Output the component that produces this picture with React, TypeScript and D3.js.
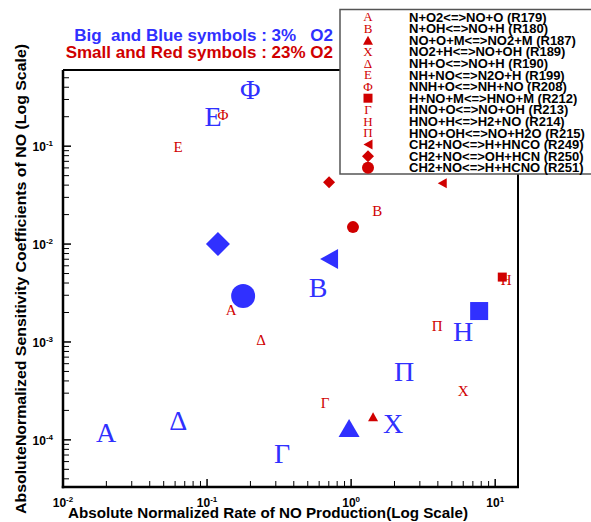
import React from "react";
import * as d3 from "d3";

const width = 591;
const height = 522;

const reactions = [
  "N+O2<=>NO+O (R179)",
  "N+OH<=>NO+H (R180)",
  "NO+O+M<=>NO2+M (R187)",
  "NO2+H<=>NO+OH (R189)",
  "NH+O<=>NO+H (R190)",
  "NH+NO<=>N2O+H (R199)",
  "NNH+O<=>NH+NO (R208)",
  "H+NO+M<=>HNO+M (R212)",
  "HNO+O<=>NO+OH (R213)",
  "HNO+H<=>H2+NO (R214)",
  "HNO+OH<=>NO+H2O (R215)",
  "CH2+NO<=>H+HNCO (R249)",
  "CH2+NO<=>OH+HCN (R250)",
  "CH2+NO<=>H+HCNO (R251)",
];
const symbols = ["Α", "Β", "triUp", "Χ", "Δ", "Ε", "Φ", "square", "Γ", "Η", "Π", "triLeft", "diamond", "circle"];

// 3% O2 (big, blue)
const blueX = [0.0199, 0.59, 0.968, 1.96, 0.063, 0.11, 0.199, 7.74, 0.332, 6.0, 2.33, 0.703, 0.119, 0.178];
const blueY = [1.18e-4, 3.56e-3, 1.32e-4, 1.46e-4, 1.56e-4, 0.198, 0.38, 2.07e-3, 7.2e-5, 1.26e-3, 4.94e-4, 7.03e-3, 0.01, 2.95e-3];
// 23% O2 (small, red)
const redX = [0.147, 1.52, 1.42, 6.0, 0.237, 0.063, 0.129, 11.2, 0.659, 11.9, 3.96, 4.29, 0.703, 1.03];
const redY = [2.12e-3, 0.0217, 1.72e-4, 3.16e-4, 1.05e-3, 0.0977, 0.207, 4.6e-3, 2.39e-4, 4.3e-3, 1.46e-3, 0.0419, 0.0429, 0.0149];

const xDecades = [-2, -1, 0, 1];
const yDecades = [-1, -2, -3, -4];

const blue = "#3030ff";
const red = "#d00000";
const sans = "Arial, 'Liberation Sans', Helvetica, sans-serif";
const serif = "'Times New Roman', 'Liberation Serif', serif";

const margin = { top: 70, right: 73, bottom: 35, left: 63 };
const xScale = d3.scaleLog().domain([0.01, 14.4]).range([margin.left, width - margin.right]);
const yScale = d3.scaleLog().domain([3.3e-5, 0.6]).range([height - margin.bottom, margin.top]);

type Sz = { sq: number; ci: number; di: number; tw: number; th: number; lw: number; lh: number; font: number };
const bigSz: Sz = { sq: 18, ci: 24, di: 24, tw: 21, th: 18, lw: 18, lh: 20, font: 28 };
const smallSz: Sz = { sq: 9, ci: 12, di: 12, tw: 10, th: 9, lw: 9, lh: 10, font: 15 };
const legendSz: Sz = { sq: 9, ci: 12, di: 12, tw: 10, th: 9, lw: 9, lh: 10, font: 13 };

function Marker({ sym, x, y, sz, color }: { sym: string; x: number; y: number; sz: Sz; color: string }) {
  if (sym === "square") {
    return <rect x={x - sz.sq / 2} y={y - sz.sq / 2} width={sz.sq} height={sz.sq} fill={color} />;
  }
  if (sym === "circle") {
    return <circle cx={x} cy={y} r={sz.ci / 2} fill={color} />;
  }
  if (sym === "diamond") {
    const h = sz.di / 2;
    return <path d={`M${x},${y - h}L${x + h},${y}L${x},${y + h}L${x - h},${y}Z`} fill={color} />;
  }
  if (sym === "triUp") {
    const w = sz.tw / 2;
    const h = sz.th / 2;
    return <path d={`M${x},${y - h}L${x + w},${y + h}L${x - w},${y + h}Z`} fill={color} />;
  }
  if (sym === "triLeft") {
    const w = sz.lw / 2;
    const h = sz.lh / 2;
    return <path d={`M${x - w},${y}L${x + w},${y - h}L${x + w},${y + h}Z`} fill={color} />;
  }
  return (
    <text x={x} y={y + sz.font * 0.33} textAnchor="middle" fontFamily={serif} fontSize={sz.font} fill={color}>
      {sym}
    </text>
  );
}

function Pow({ x, y, exp, anchor }: { x: number; y: number; exp: number; anchor: string }) {
  return (
    <text x={x} y={y} textAnchor={anchor} fontFamily={sans} fontWeight="bold" fontSize={12} fill="#000">
      10
      <tspan dy={-5} fontSize={8}>{exp}</tspan>
    </text>
  );
}

export default function App() {
  const x0 = xScale.range()[0];
  const x1 = xScale.range()[1];
  const y0 = yScale.range()[0];
  const y1 = yScale.range()[1];

  const xMinor: number[] = [];
  xDecades.forEach((e) => {
    for (let k = 2; k <= 9; k++) {
      const v = k * Math.pow(10, e);
      if (v < xScale.domain()[1]) xMinor.push(v);
    }
  });
  const yMinor: number[] = [];
  [-5, -4, -3, -2, -1].forEach((e) => {
    for (let k = 2; k <= 9; k++) {
      const v = k * Math.pow(10, e);
      if (v > yScale.domain()[0] && v < yScale.domain()[1]) yMinor.push(v);
    }
  });

  const legX = 340;
  const legY = 9.5;
  const rowY = (i: number) => 17 + i * 11.6;

  return (
    <svg width={width} height={height} style={{ display: "block", position: "absolute", left: 0, top: 0, background: "#fff" }}>
      <rect width={width} height={height} fill="#fff" />

      {/* frame */}
      <line x1={x0} x2={x1} y1={y1} y2={y1} stroke="#000" strokeWidth={2} />
      <line x1={x1} x2={x1} y1={y1} y2={y0} stroke="#000" strokeWidth={2} />
      <line x1={x0} x2={x0} y1={y1} y2={y0 + 1.25} stroke="#000" strokeWidth={2.5} />
      <line x1={x0 - 1.25} x2={x1 + 1} y1={y0} y2={y0} stroke="#000" strokeWidth={2.5} />

      {/* ticks */}
      {xMinor.map((v, i) => (
        <line key={"xm" + i} x1={xScale(v)} x2={xScale(v)} y1={y0} y2={y0 - 6} stroke="#000" strokeWidth={1} />
      ))}
      {xDecades.map((e) => (
        <line key={"xM" + e} x1={xScale(Math.pow(10, e))} x2={xScale(Math.pow(10, e))} y1={y0} y2={y0 - 8} stroke="#000" strokeWidth={1.5} />
      ))}
      {yMinor.map((v, i) => (
        <line key={"ym" + i} x1={x0} x2={x0 + 6} y1={yScale(v)} y2={yScale(v)} stroke="#000" strokeWidth={1} />
      ))}
      {yDecades.map((e) => (
        <line key={"yM" + e} x1={x0} x2={x0 + 8} y1={yScale(Math.pow(10, e))} y2={yScale(Math.pow(10, e))} stroke="#000" strokeWidth={1.5} />
      ))}

      {/* tick labels */}
      {xDecades.map((e) => (
        <Pow key={"xl" + e} x={xScale(Math.pow(10, e))} y={y0 + 20} exp={e} anchor="middle" />
      ))}
      {yDecades.map((e) => (
        <Pow key={"yl" + e} x={x0 - 10} y={yScale(Math.pow(10, e)) + 5} exp={e} anchor="end" />
      ))}

      {/* axis titles */}
      <text x={268} y={518} textAnchor="middle" fontFamily={sans} fontWeight="bold" fontSize={14.5} textLength={400} lengthAdjust="spacingAndGlyphs" fill="#000">
        Absolute Normalized Rate of NO Production(Log Scale)
      </text>
      <text transform="translate(26,279) rotate(-90)" textAnchor="middle" fontFamily={sans} fontWeight="bold" fontSize={14.5} textLength={470} lengthAdjust="spacingAndGlyphs" fill="#000">
        AbsoluteNormalized Sensitivity Coefficients of NO (Log Scale)
      </text>

      {/* notes */}
      <text x={333} y={41} textAnchor="end" fontFamily={sans} fontWeight="bold" fontSize={17} fill={blue} style={{ whiteSpace: "pre" }}>
        {"Big  and Blue symbols : 3%   O2"}
      </text>
      <text x={333} y={58} textAnchor="end" fontFamily={sans} fontWeight="bold" fontSize={17} fill={red} style={{ whiteSpace: "pre" }}>
        {"Small and Red symbols : 23% O2"}
      </text>

      {/* points */}
      {symbols.map((s, i) => (
        <Marker key={"b" + i} sym={s} x={xScale(blueX[i])} y={yScale(blueY[i])} sz={bigSz} color={blue} />
      ))}
      {symbols.map((s, i) => (
        <Marker key={"r" + i} sym={s} x={xScale(redX[i])} y={yScale(redY[i])} sz={smallSz} color={red} />
      ))}

      {/* legend */}
      <rect x={legX} y={legY} width={width - legX + 5} height={174 - legY} fill="#fff" stroke="#555" strokeWidth={1.5} />
      {symbols.map((s, i) => (
        <g key={"l" + i}>
          <Marker sym={s} x={368} y={rowY(i)} sz={legendSz} color={red} />
          <text x={409} y={rowY(i) + 4.5} fontFamily={sans} fontWeight="bold" fontSize={13} fill="#000">
            {reactions[i]}
          </text>
        </g>
      ))}
    </svg>
  );
}
